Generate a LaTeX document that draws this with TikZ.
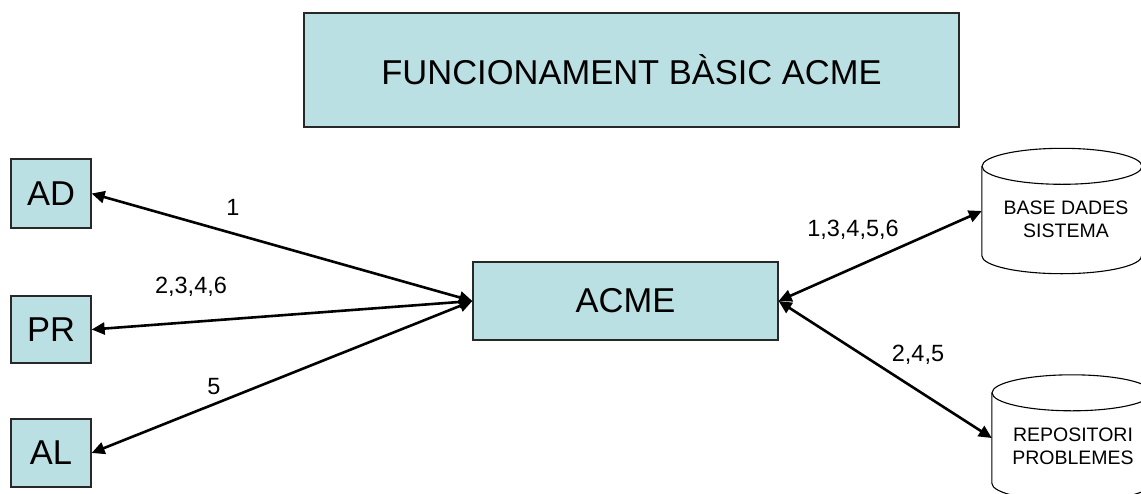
\documentclass[tikz,border=0pt]{standalone}
\usepackage{fontspec}
\setmainfont{Liberation Sans}
\usetikzlibrary{arrows.meta}
\definecolor{boxfill}{RGB}{187,224,227}
\definecolor{boxline}{RGB}{40,40,40}
\tikzset{
  bluebox/.style={draw=boxline, line width=1.3pt, fill=boxfill, inner sep=0pt, font=\fontsize{34.5}{40}\selectfont},
  body/.style={inner sep=0pt, minimum width=160pt},
  dbtext/.style={align=center, font=\fontsize{19.5}{23}\selectfont},
  lbl/.style={font=\fontsize{23.5}{28}\selectfont, inner sep=0pt},
  conn/.style={line width=2.6pt, {Triangle[length=13pt,width=12pt]}-{Triangle[length=13pt,width=12pt]}},
  cyl/.style={line width=1.1pt, draw=black}
}
\begin{document}
\begin{tikzpicture}[x=1pt,y=-1pt]
\useasboundingbox (0,0) rectangle (1141,493);
\clip (0,0) rectangle (1141,493);
% title
\node[bluebox, minimum width=655pt, minimum height=114pt] (title) at (631.5,70) {FUNCIONAMENT BÀSIC ACME};
% left boxes
\node[bluebox, minimum width=80pt, minimum height=69pt] (ad) at (51,193.5) {AD};
\node[bluebox, minimum width=80pt, minimum height=67pt] (pr) at (51,329.5) {PR};
\node[bluebox, minimum width=80pt, minimum height=68pt] (al) at (51,453) {AL};
% centre
\node[bluebox, minimum width=305pt, minimum height=78pt] (acme) at (625.5,301) {ACME};
% cylinder bodies
\node[body, minimum height=89pt] (db) at (1062,211) {};
\node[body, minimum height=90pt] (rep) at (1072,438) {};
\draw[cyl] (db.north west) -- (db.south west) arc[start angle=180,end angle=360,x radius=80pt,y radius=18pt] -- (db.north east);
\draw[cyl] (db.north) ellipse[x radius=80pt,y radius=18pt];
\draw[cyl] (rep.north west) -- (rep.south west) arc[start angle=180,end angle=360,x radius=80pt,y radius=18pt] -- (rep.north east);
\draw[cyl] (rep.north) ellipse[x radius=80pt,y radius=18pt];
\node[dbtext] (dbt) at (1066,219.5) {BASE DADES\\SISTEMA};
\node[dbtext] (rept) at (1073,446.5) {REPOSITORI\\PROBLEMES};
% connectors
\draw[conn] (ad.east) -- (acme.west);
\draw[conn] (pr.east) -- (acme.west);
\draw[conn] (al.east) -- (acme.west);
\draw[conn] (acme.east) -- (db.west);
\draw[conn] (acme.east) -- (rep.west);
% labels
\node[lbl] (l1) at (233,207) {1};
\node[lbl] (l2) at (191,287) {2,3,4,6};
\node[lbl] (l3) at (214,387) {5};
\node[lbl] (l4) at (853,230) {1,3,4,5,6};
\node[lbl] (l5) at (918,355) {2,4,5};
\end{tikzpicture}
\end{document}
